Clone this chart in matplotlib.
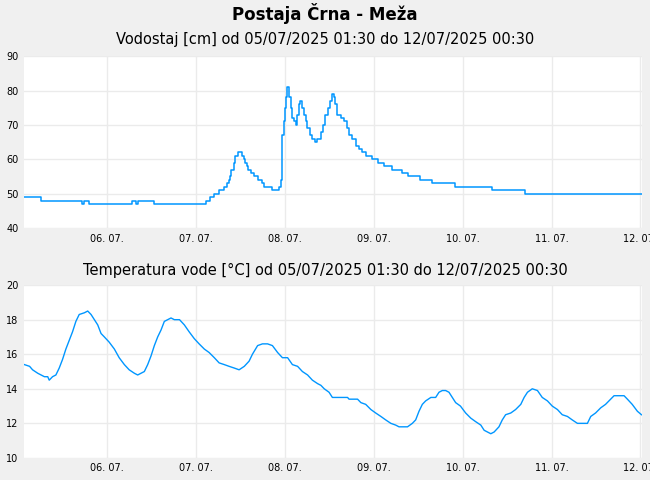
import pandas as pd
import matplotlib
matplotlib.use('Agg')
import matplotlib.pyplot as plt
import matplotlib.dates as mdates

start = pd.Timestamp('2025-07-05 01:30')
end = pd.Timestamp('2025-07-12 00:30')

# water level [cm], hours after start where the value changes
level_h = [0, 4.7, 15.7, 16.1, 17.5, 29.2, 30.3, 30.8, 35.2, 49.1, 50.2, 51.4,
           52.7, 54.0, 54.7, 55.4, 55.7, 56.0, 56.6, 57.0, 57.7, 59.0, 59.4,
           59.7, 60.1, 60.4, 61.3, 62.2, 63.3, 64.4, 64.9, 67.1, 68.9, 69.3,
           69.6, 69.8, 70.1, 70.5, 70.9, 71.15, 71.4, 71.7, 72.05, 72.5, 72.95,
           73.4, 73.85, 74.3, 74.66, 75.0, 75.5, 76.1, 76.55, 77.3, 77.9, 78.5,
           79.25, 80.3, 80.8, 81.3, 82.0, 82.6, 83.3, 83.66, 84.0, 84.65, 85.55,
           86.45, 87.2, 87.8, 88.7, 89.6, 90.5, 91.4, 92.3, 93.9, 95.5, 97.3,
           99.5, 102.0, 103.7, 106.9, 110.3, 116.3, 126.3, 135.3, 167]
level = [49, 48, 47, 48, 47, 48, 47, 48, 47, 48, 49, 50,
         51, 52, 53, 54, 55, 57, 59, 61, 62, 61, 60,
         59, 58, 57, 56, 55, 54, 53, 52, 51, 52, 54,
         58, 67, 71, 75, 78, 81, 81, 78, 75, 72, 71,
         70, 73, 76, 77, 75, 73, 71, 69, 67, 66, 65,
         66, 68, 70, 73, 75, 77, 79, 78, 76, 73, 72,
         71, 69, 67, 66, 64, 63, 62, 61, 60, 59, 58,
         57, 56, 55, 54, 53, 52, 51, 50, 50]

# water temperature [°C]
temp_h = [0.1, 1.5, 2.3, 3.7, 4.6, 5.5, 6.4, 6.8, 7.7, 8.6, 9.5, 10.4, 11.3,
          12.2, 13.1, 14.0, 14.9, 16.3, 17.2, 18.1, 19.0, 19.9, 20.8, 21.7,
          23.0, 24.4, 25.7, 27.1, 28.4, 29.8, 30.7, 31.6, 32.5, 33.4, 34.3,
          35.2, 36.1, 37.0, 37.9, 38.8, 39.7, 40.6, 42.0, 43.3, 44.6, 46.0,
          47.3, 48.7, 50.0, 51.4, 52.7, 54.1, 55.4, 56.8, 58.1, 59.5, 60.8,
          61.7, 63.1, 64.4, 65.8, 67.1, 68.5, 69.8, 71.2, 72.5, 73.9, 75.2,
          76.6, 77.9, 79.3, 80.2, 81.1, 82.4, 83.3, 85.1, 87.4, 87.8, 90.1,
          91.0, 92.3, 93.7, 95.0, 96.4, 97.7, 99.1, 100.4, 101.3, 103.6, 104.9,
          105.8, 106.7, 107.6, 108.5, 109.9, 111.2, 112.1, 113.0, 113.9, 114.8,
          115.7, 116.6, 117.9, 119.3, 120.7, 122.0, 123.4, 124.3, 125.2, 126.1,
          127.0, 128.3, 129.2, 130.1, 131.5, 132.8, 134.2, 135.1, 136.0, 137.3,
          138.7, 140.0, 141.4, 142.7, 144.1, 145.4, 146.8, 148.1, 149.5, 152.2,
          153.1, 154.4, 155.8, 157.1, 158.5, 159.4, 162.1, 163.0, 164.3, 165.7,
          166.8]
temp = [15.4, 15.3, 15.1, 14.9, 14.8, 14.7, 14.7, 14.5, 14.7, 14.8, 15.2, 15.7, 16.3,
        16.8, 17.3, 17.9, 18.3, 18.4, 18.5, 18.3, 18.0, 17.7, 17.2, 17.0,
        16.7, 16.3, 15.8, 15.4, 15.1, 14.9, 14.8, 14.9, 15.0, 15.4, 15.9,
        16.5, 17.0, 17.4, 17.9, 18.0, 18.1, 18.0, 18.0, 17.7, 17.3, 16.9,
        16.6, 16.3, 16.1, 15.8, 15.5, 15.4, 15.3, 15.2, 15.1, 15.3, 15.6,
        16.0, 16.5, 16.6, 16.6, 16.5, 16.1, 15.8, 15.8, 15.4, 15.3, 15.0,
        14.8, 14.5, 14.3, 14.2, 14.0, 13.8, 13.5, 13.5, 13.5, 13.4, 13.4,
        13.2, 13.1, 12.8, 12.6, 12.4, 12.2, 12.0, 11.9, 11.8, 11.8, 12.0,
        12.2, 12.7, 13.1, 13.3, 13.5, 13.5, 13.8, 13.9, 13.9, 13.8,
        13.5, 13.2, 13.0, 12.6, 12.3, 12.1, 11.9, 11.6, 11.5, 11.4,
        11.5, 11.8, 12.2, 12.5, 12.6, 12.8, 13.1, 13.5, 13.8, 14.0,
        13.9, 13.5, 13.3, 13.0, 12.8, 12.5, 12.4, 12.2, 12.0, 12.0,
        12.4, 12.6, 12.9, 13.1, 13.4, 13.6, 13.6, 13.4, 13.1, 12.7,
        12.5]

level_t = [start + pd.Timedelta(hours=h) for h in level_h]
temp_t = [start + pd.Timedelta(hours=h) for h in temp_h]

line_col = '#0096ff'
bg = '#f0f0f0'

fig = plt.figure(figsize=(6.5, 4.8), dpi=100, facecolor=bg)
fig.text(0.5, 0.971, 'Postaja Črna - Meža', ha='center', va='center',
         fontsize=12, fontweight='bold')

ax1 = fig.add_axes([0.037, 0.525, 0.951, 0.358])
ax2 = fig.add_axes([0.037, 0.046, 0.951, 0.360])

ax1.plot(level_t, level, color=line_col, lw=1.1, drawstyle='steps-post')
ax2.plot(temp_t, temp, color=line_col, lw=1.0)

ax1.set_ylim(40, 90)
ax1.set_yticks([40, 50, 60, 70, 80, 90])
ax2.set_ylim(10, 20)
ax2.set_yticks([10, 12, 14, 16, 18, 20])

fig.text(0.5, 0.918, 'Vodostaj [cm] od 05/07/2025 01:30 do 12/07/2025 00:30',
         ha='center', va='center', fontsize=10.5)
fig.text(0.5, 0.437, 'Temperatura vode [°C] od 05/07/2025 01:30 do 12/07/2025 00:30',
         ha='center', va='center', fontsize=10.5)

for ax in (ax1, ax2):
    ax.set_facecolor('white')
    ax.set_xlim(start, end)
    ax.xaxis.set_major_locator(mdates.DayLocator())
    ax.xaxis.set_major_formatter(mdates.DateFormatter('%d. %m.'))
    ax.grid(True, color='#ebebeb', lw=1)
    ax.set_axisbelow(True)
    for s in ax.spines.values():
        s.set_visible(False)
    ax.tick_params(length=0, labelsize=7, pad=4)

plt.savefig('out.png', dpi=100, facecolor=bg)
